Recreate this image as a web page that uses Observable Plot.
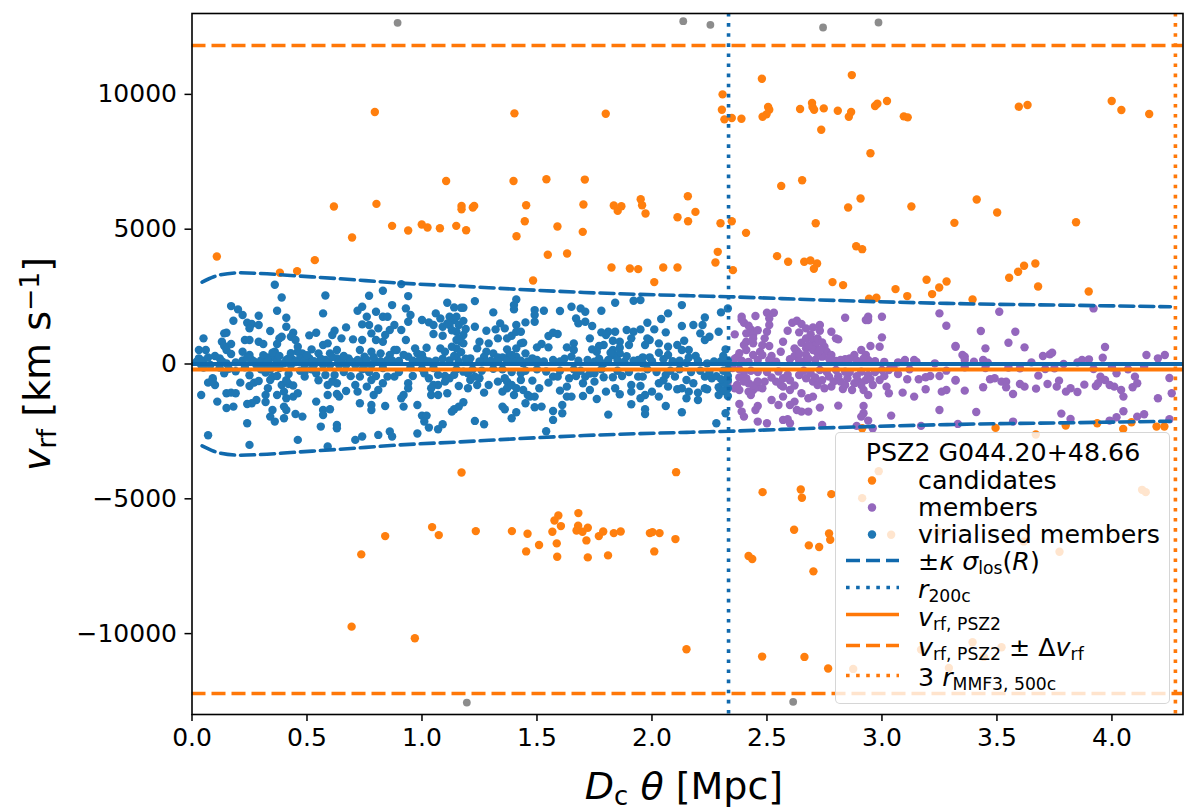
<!DOCTYPE html>
<html><head><meta charset="utf-8">
<script src="https://cdn.jsdelivr.net/npm/d3@7"></script>
<script src="https://cdn.jsdelivr.net/npm/@observablehq/plot@0.6"></script>
<style>
html,body{margin:0;padding:0;background:#fff}
#wrap{position:relative;width:1200px;height:812px;font-family:"DejaVu Sans",sans-serif;color:#000;overflow:hidden}
.lab{position:absolute;white-space:nowrap;line-height:1}
.lab sub{font-size:.68em;vertical-align:baseline;position:relative;top:.22em}
.lab sup{font-size:.7em;vertical-align:baseline;position:relative;top:-.42em}
#legend{position:absolute;left:835px;top:432px;width:333px;height:270px;background:rgba(255,255,255,.8);border:1.5px solid rgba(204,204,204,.8);border-radius:5px}
#legend .lab{font-size:25.3px}
#legend svg{position:absolute;left:0;top:0}
</style></head><body><div id="wrap"></div>
<script>
const virialised = [
[.36,2938],[.39,2469],[.58,2543],[.77,2531],[.17,2148],[.20,2025],[.22,1815],[.18,1605],[.29,1790],[.37,1975],[.57,1877],[.41,1716],[.24,1531],[.26,1481],[.29,1444],[.25,1321],[.41,1383],[.34,1222],[.15,1160],[.14,1136],[.44,1160],[.54,1160],[.51,1062],[.62,1235],[.61,1074],[.67,1358],[.72,1975],[.74,2123],[.76,1753],[.80,1938],[.74,1469],[.77,1444],[.78,1136],[.05,951],[.23,889],[.25,889],[.29,827],[.31,741],[.13,827],[.17,741],[.14,667],[.15,519],[.17,370],[.03,519],[.06,519],[.22,457],[.39,1012],[.38,951],[.37,741],[.43,1012],[.45,889],[.46,642],[.48,395],[.36,457],[.35,247],[.33,247],[.25,333],[.26,148],[.10,296],[.12,210],[.15,25],[.03,210],[.02,86],[.41,148],[.44,148],[.46,457],[.47,210],[.51,210],[.52,543],[.55,395],[.57,704],[.59,765],[.65,951],[.63,519],[.60,395],[.63,210],[.65,86],[.70,914],[.74,889],[.73,519],[.75,272],[.72,148],[.68,210],[.80,889],[.81,1321],[.78,457],[.80,86],[.58,148],
[.04,-37],[.08,-37],[.28,-37],[.32,-37],[.36,-37],[.40,25],[.43,-37],[.49,-37],[.53,-37],[.57,-37],[.60,-37],[.64,-37],[.67,-37],[.71,-37],[.75,-37],[.78,-37],
[.09,-531],[.07,-691],[.10,-778],[.09,-593],[.14,-346],[.25,-420],[.21,-691],[.25,-815],[.27,-691],[.29,-630],[.32,-321],[.35,-469],[.37,-444],[.34,-593],[.33,-901],[.32,-1148],[.32,-1407],[.37,-1148],[.39,-778],[.42,-741],[.40,-1025],[.41,-1272],[.44,-1210],[.46,-1086],[.28,-1333],[.26,-1457],[.24,-1481],[.04,-1148],[.11,-1395],[.15,-1086],[.17,-1062],[.19,-1086],[.15,-1630],[.18,-1580],[.40,-1580],[.41,-1704],[.35,-1704],[.34,-1951],[.36,-2136],[.40,-2012],[.45,-1852],[.48,-1951],[.24,-2198],[.07,-2642],[.25,-3000],[.46,-2815],[.59,-3062],[.71,-2815],[.74,-2691],[.54,-1395],[.57,-1704],[.60,-1679],[.57,-1889],[.56,-2321],[.63,-2259],[.63,-2383],[.81,-2630],[.42,-370],[.49,-469],[.49,-284],[.54,-346],[.58,-407],[.62,-407],[.59,-778],[.63,-716],[.67,-1000],[.59,-1148],[.63,-1111],[.64,-1210],[.72,-1025],[.71,-778],[.73,-1457],[.76,-840],[.73,-469],[.78,-593],[.80,-444],[.79,-1148],[.81,-963],[.78,-1519],[.78,-1704],
[.91,2963],[.83,2716],[.94,2519],[.87,2185],[.93,2062],[.95,1815],[.94,1568],[1.11,2272],[1.14,2099],[1.17,2086],[1.18,2086],[1.23,2333],[1.41,2395],[1.40,2185],[1.40,2025],[1.31,1914],[1.53,1975],[1.49,2000],[1.49,1815],[1.60,1963],[1.49,1568],[1.45,1543],[1.41,1444],[1.00,1630],[1.03,1543],[1.06,1877],[1.08,1691],[1.05,1444],[1.05,1111],[1.12,1753],[1.14,1630],[1.12,1444],[1.09,1383],[1.09,1049],[1.16,1444],[1.15,1198],[1.18,1074],[1.15,889],[1.17,827],[1.18,765],[1.15,580],[1.23,1383],[1.28,1235],[1.32,1284],[1.34,1506],[1.36,1321],[1.33,951],[1.37,951],[1.39,1049],[1.41,1198],[1.43,1198],[1.43,765],[1.44,790],[1.41,580],[1.37,543],[1.38,333],[1.41,272],[1.45,395],[1.48,210],[1.50,617],[1.52,741],[1.55,617],[1.55,1037],[1.57,1160],[1.59,1111],[1.63,617],[1.57,148],[1.25,827],[1.29,765],[1.24,580],[1.28,457],[1.31,395],[1.27,272],[1.33,247],[1.35,247],[1.28,86],[1.08,580],[1.10,457],[1.02,605],[.97,580],[.98,395],[.94,272],[1.00,333],[1.01,148],[.88,519],[.89,519],[.86,333],[.85,148],[.93,889],[.91,1259],[.88,1444],[.86,1259],[.84,1074],[.83,827],[.83,1753],[.85,1753],[.82,395],[1.15,272],[1.16,86],[1.21,210],[1.40,86],[1.44,25],
[.84,-1556],[.92,-1580],[.98,-1519],[.83,-716],[.85,-469],[.88,-469],[.96,-444],[.94,-716],[.94,-901],[.92,-1148],[.91,-1272],[1.01,-346],[1.03,-531],[1.10,-444],[1.12,-531],[1.10,-654],[1.07,-778],[1.05,-778],[1.04,-901],[1.04,-1148],[1.07,-1148],[1.11,-1086],[1.16,-815],[1.20,-901],[1.21,-593],[1.24,-778],[1.23,-469],[1.25,-531],[1.29,-778],[1.27,-1062],[1.18,-1420],[1.16,-1580],[1.14,-1679],[1.13,-1765],[1.00,-1914],[1.02,-1914],[1.01,-2136],[1.03,-2358],[1.07,-2420],[1.09,-2235],[1.23,-2111],[1.27,-2235],[.98,-2580],[.86,-2506],[.87,-2691],[1.33,-654],[1.36,-531],[1.37,-654],[1.37,-901],[1.35,-1025],[1.39,-778],[1.40,-1148],[1.41,-901],[1.43,-593],[1.44,-963],[1.46,-1148],[1.45,-1457],[1.47,-1210],[1.49,-1210],[1.35,-1580],[1.36,-1679],[1.41,-1790],[1.39,-2012],[1.49,-1605],[1.52,-1580],[1.48,-617],[1.51,-901],[1.55,-691],[1.57,-469],[1.59,-469],[1.64,-531],[1.60,-988],[1.63,-840],[1.63,-1210],[1.61,-1519],[1.61,-1827],[1.57,-1741],[1.57,-2074],[1.54,-2494],[1.43,-346],[1.18,-284],[1.20,-346],
[1.65,2123],[1.69,2062],[1.71,1938],[1.78,1975],[1.84,2272],[1.92,2346],[1.95,2370],[2.13,2185],[2.07,1877],[2.04,1667],[2.23,1728],[2.30,1914],[2.33,2062],[2.29,1198],[2.18,1444],[2.22,1444],[2.21,1136],[2.23,889],[2.25,1012],[1.67,1691],[1.68,1506],[1.71,1568],[1.74,1407],[1.98,1531],[2.01,1284],[1.95,1284],[1.92,1198],[1.89,1259],[1.84,1198],[1.81,1198],[1.78,1173],[1.80,1074],[2.13,1407],[2.06,1173],[1.73,951],[1.79,704],[1.77,667],[1.74,543],[1.76,457],[1.83,864],[1.86,827],[1.83,519],[1.91,951],[1.90,704],[1.86,395],[1.83,333],[1.85,148],[1.88,86],[1.98,951],[1.99,889],[1.97,704],[2.03,765],[2.07,642],[2.11,704],[2.14,864],[2.13,519],[2.16,519],[2.19,296],[2.07,333],[2.12,123],[1.99,247],[1.96,247],[1.94,148],[2.32,543],[2.33,123],[1.66,765],[1.66,519],[1.65,272],[1.75,86],[1.79,25],[1.96,25],[2.15,49],[2.24,25],
[1.67,-444],[1.70,-716],[1.71,-469],[1.75,-346],[1.75,-654],[1.73,-963],[1.70,-1185],[1.76,-1296],[1.80,-1025],[1.79,-494],[1.83,-494],[1.84,-901],[1.86,-1123],[1.87,-444],[1.91,-778],[1.91,-1025],[1.95,-815],[1.96,-469],[1.94,-469],[1.97,-1148],[1.95,-1272],[1.91,-1494],[1.97,-1679],[1.97,-1852],[1.81,-1877],[2.06,-1556],[2.13,-1790],[2.00,-1025],[2.03,-716],[2.03,-1210],[2.07,-840],[2.06,-407],[2.10,-469],[2.11,-938],[2.13,-901],[2.15,-593],[2.18,-716],[2.16,-1025],[2.15,-1272],[2.20,-1333],[2.23,-901],[2.24,-938],[2.20,-1062],[2.23,-469],[2.26,-531],[2.29,-864],[2.29,-1148],[2.33,-593],[2.33,-901],[2.33,-1185],[2.32,-1827],[2.28,-2198],[1.65,-1210],[2.33,-444],
[.05,120],[.07,240],[.13,100],[.19,60],[.22,130],[.24,230],[.27,90],[.30,130],[.31,330],[.33,100],[.35,420],[.37,90],[.38,300],[.42,210],[.43,400],[.45,70],[.49,120],[.50,330],[.53,100],[.56,200],[.59,60],[.61,260],[.66,300],[.69,100],[.73,60],[.76,150],[.79,250],[.82,100],[.87,130],[.90,110],[.92,340],[.96,120],[.99,160],[1.03,90],[1.06,120],[1.09,200],[1.12,130],[1.14,300],[1.17,440],[1.19,200],[1.13,640],[1.16,950],[1.19,1300],[1.13,1250],[1.18,1600],[1.15,1750],[1.11,1500],[1.25,90],[1.30,120],[1.33,90],[1.37,130],[1.39,340],[1.43,120],[1.46,90],[1.50,150],[1.53,90],[1.60,90],[1.62,200],[1.68,120],[1.72,150],[1.77,200],[1.81,150],[1.82,420],[1.86,600],[1.89,290],[1.92,120],[2.00,100],[2.03,420],[2.05,180],[2.09,100],[2.16,240],[2.20,120],[2.27,90],[2.30,100],[2.31,300],
[.05,-130],[.12,-130],[.16,-180],[.19,-270],[.23,-120],[.30,-200],[.34,-200],[.38,-150],[.41,-600],[.44,-800],[.47,-250],[.52,-200],[.55,-600],[.61,-650],[.66,-300],[.69,-450],[.74,-200],[.77,-300],[.83,-150],[.90,-300],[.95,-120],[1.00,-180],[1.05,-150],[1.07,-400],[1.15,-200],[1.14,-400],[1.22,-200],[1.26,-250],[1.31,-180],[1.35,-200],[1.39,-300],[1.45,-250],[1.50,-200],[1.54,-280],[1.60,-250],[1.66,-200],[1.69,-250],[1.73,-350],[1.78,-200],[1.85,-250],[1.90,-300],[1.98,-200],[2.02,-300],[2.05,-600],[2.08,-250],[2.12,-200],[2.17,-300],[2.21,-250],[2.25,-300],[2.28,-450],[2.31,-250],[2.33,-200],[2.31,-700],[2.31,-1000],[2.30,-560]
];
const members = [
[2.39,1753],[2.40,1531],[2.45,1778],[2.50,1901],[2.53,1901],[2.51,1691],[2.51,1444],[2.50,1198],[2.49,951],[2.36,1099],[2.43,1284],[2.41,1136],[2.44,1074],[2.41,827],[2.44,765],[2.40,704],[2.51,667],[2.41,519],[2.44,333],[2.47,457],[2.37,247],[2.57,827],[2.56,457],[2.59,1235],[2.61,1531],[2.63,1605],[2.65,1481],[2.64,1173],[2.67,1321],[2.70,1358],[2.73,1444],[2.73,1235],[2.78,1198],[2.80,951],[2.81,914],[2.84,1716],[2.93,1630],[2.94,1753],[2.94,1630],[3.00,1753],[3.00,988],[2.95,667],[2.99,642],[2.91,519],[2.88,333],[2.93,333],[2.86,210],[2.83,86],[2.65,790],[2.67,951],[2.70,889],[2.71,704],[2.67,580],[2.63,481],[2.67,333],[2.70,519],[2.75,642],[2.76,457],[2.78,333],[2.74,272],[2.78,148],[2.66,86],[2.71,148],[2.51,148],[2.54,86],[2.46,148],[2.94,148],[3.25,1877],[3.28,1420],[3.32,642],[3.07,62],[3.10,148],[3.14,148],[3.23,25],[2.91,86],
[2.33,-654],[2.33,-840],[2.36,-901],[2.38,-963],[2.37,-778],[2.41,-531],[2.42,-716],[2.42,-1025],[2.44,-963],[2.46,-864],[2.49,-654],[2.48,-901],[2.43,-1148],[2.54,-654],[2.56,-778],[2.57,-531],[2.57,-840],[2.52,-1333],[2.55,-1519],[2.57,-1210],[2.60,-963],[2.62,-1395],[2.60,-1519],[2.63,-1704],[2.65,-1765],[2.68,-1765],[2.70,-1210],[2.68,-1272],[2.65,-1086],[2.73,-1617],[2.81,-1543],[2.64,-407],[2.67,-531],[2.70,-654],[2.72,-778],[2.75,-901],[2.78,-840],[2.77,-469],[2.82,-654],[2.85,-531],[2.83,-926],[2.87,-963],[2.88,-716],[2.90,-654],[2.93,-593],[2.92,-963],[2.94,-1148],[2.96,-778],[2.99,-593],[3.02,-840],[3.03,-1086],[3.09,-1062],[3.14,-1210],[3.19,-938],[3.26,-1025],[3.28,-963],[3.11,-568],[3.16,-568],[3.19,-494],[3.21,-444],[3.25,-444],[3.28,-247],[3.03,-222],[3.07,-370],[3.32,-593],[2.38,-1481],[2.46,-1556],[2.45,-1704],[2.39,-1765],[2.40,-1951],[2.46,-2136],[2.50,-2198],[2.57,-2074],[2.59,-2049],[2.60,-2198],[2.74,-2259],[2.89,-2296],[2.92,-1556],[2.92,-1827],[2.91,-1951],[2.94,-2099],[3.04,-1914],[3.25,-1704],[3.17,-2296],[2.96,-2383],[2.80,-222],[2.84,-284],[2.91,-284],[2.94,-407],[2.73,-222],[3.00,-222],
[3.51,1938],[3.92,2062],[3.43,1222],[3.58,1198],[3.32,667],[3.45,580],[3.55,790],[3.62,617],[3.97,630],[3.35,333],[3.36,272],[3.36,148],[3.40,86],[3.44,148],[3.46,49],[3.70,296],[3.73,358],[3.74,420],[3.87,148],[3.90,173],[3.96,235],[4.15,333],[4.20,210],[4.23,333],[3.79,0],
[3.32,-617],[3.36,-988],[3.44,-864],[3.47,-568],[3.49,-531],[3.52,-654],[3.54,-654],[3.54,-864],[3.57,-1111],[3.60,-741],[3.62,-840],[3.67,-914],[3.68,-432],[3.72,-741],[3.76,-840],[3.77,-617],[3.80,-1025],[3.82,-901],[3.85,-1037],[3.88,-765],[3.93,-815],[3.94,-716],[3.95,-469],[3.97,-593],[3.99,-778],[4.01,-840],[4.04,-963],[4.05,-1210],[4.09,-864],[4.10,-469],[4.11,-716],[4.20,-1272],[4.25,-519],[4.26,-1086],[4.02,-346],[4.07,-198],[3.92,-185],[3.75,-160],[3.71,-185],[3.60,-160],[3.41,-1778],[3.33,-2222],[3.57,-2136],[3.78,-1840],[3.82,-2037],[4.02,-1975],[3.99,-2099],[4.05,-1753],[4.11,-1951],[4.14,-1864],[4.25,-2049],[4.14,-99],
[2.35,-150],[2.38,-200],[2.40,-300],[2.43,-250],[2.46,-300],[2.38,-500],[2.40,-650],[2.44,-800],[2.46,-650],[2.50,-300],[2.52,-500],[2.55,-280],[2.59,-400],[2.60,-600],[2.62,-800],[2.66,-250],[2.69,-350],[2.71,-500],[2.74,-600],[2.76,-300],[2.79,-650],[2.81,-450],[2.84,-780],[2.86,-300],[2.89,-450],[2.91,-780],[2.95,-560],[2.97,-300],[3.01,-450],[3.05,-120],[2.36,200],[2.39,120],[2.42,80],[2.48,330],[2.52,300],[2.60,180],[2.62,300],[2.64,130],[2.68,200],[2.72,400],[2.77,200],[2.80,110],[2.84,180],[2.89,120],[2.92,200],[2.97,100],[2.44,950],[2.46,1250],[2.42,1420],[2.39,1650],[2.48,700],[2.38,400],[2.69,1100],[2.72,950],[2.74,800],[2.68,700],[2.73,520],[2.82,150],[2.62,580],[2.64,380],[3.01,80],[3.12,-200],[3.15,80],[3.36,-120],[3.45,-150],[3.55,-130],[3.65,60],[3.85,60],[4.0,-120]
];
const candidates = [
[.108,3988],[.382,3383],[.457,3445],[.534,3852],[.617,5840],[.696,4691],[.795,9346],[.802,5938],[.870,5124],[.940,4951],[.999,5173],[1.024,5062],[1.078,5037],[1.105,6790],[1.149,5124],[1.192,4963],[1.172,5864],[1.172,5741],[1.221,5803],[1.227,5864],[1.402,9296],[1.398,6790],[1.453,5889],[1.447,5296],[1.411,4741],[1.483,3099],[1.541,6852],[1.547,4050],[1.589,5099],[1.631,4099],[1.708,6840],[1.702,5914],[1.699,4901],[1.799,9284],[1.824,3580],[1.834,5877],[1.851,5679],[1.867,5852],[1.904,3543],[1.940,3519],[1.951,6111],[1.957,5889],[1.972,5580],[2.01,3037],[2.049,3580],[2.111,3580],[2.111,5444],[2.156,6222],[2.157,5296],[2.189,5642],
[2.307,10000],[2.304,9432],[2.315,9074],[2.347,9124],[2.389,9099],[2.298,5222],[2.347,5296],[2.409,4864],[2.286,4160],[2.276,3765],[2.352,3481],[2.478,10580],[2.505,9531],[2.510,9432],[2.498,9259],[2.481,9173],[2.644,9457],[2.696,9679],[2.698,9531],[2.705,9432],[2.747,9481],[2.736,8691],[2.808,9395],[2.869,10716],[2.866,9346],[2.856,9173],[2.970,9568],[2.980,9654],[3.022,9753],[3.095,9185],[3.112,9148],[2.950,7815],[3.595,9543],[3.633,9605],[3.999,9753],[4.041,9420],[4.162,9272],[2.562,6605],[2.653,6815],[2.907,6136],[2.853,5803],[3.128,5840],[2.712,5222],[3.412,6099],[3.501,5617],[3.315,5235],[3.844,5259],[2.544,4000],[2.592,3790],[2.662,3790],[2.689,3840],[2.718,3728],[2.704,3531],[2.888,4370],[2.914,4259],[2.785,3037],[2.831,2926],[3.059,2778],[3.110,2519],[2.944,2420],[2.976,2457],[3.194,3123],[3.249,2840],[3.281,3062],[3.218,2593],[3.394,2395],[3.553,3198],[3.592,3420],[3.618,3642],[3.667,3728],[3.679,2877],[3.899,2691],
[1.172,-4025],[2.105,-4012],[1.044,-6050],[1.073,-6346],[.840,-6383],[.736,-7062],[1.234,-6198],[1.391,-6198],[1.459,-6296],[1.453,-6951],[1.509,-6716],[1.567,-6222],[1.586,-6654],[1.588,-7148],[1.576,-5802],[1.593,-5617],[1.604,-6012],[1.680,-5531],[1.679,-6000],[1.672,-6173],[1.698,-6222],[1.721,-6074],[1.715,-6543],[1.721,-7173],[1.769,-6383],[1.788,-6210],[1.809,-7099],[1.834,-6272],[1.864,-6210],[1.991,-6272],[2.002,-6235],[2.033,-6272],[2.01,-6951],[2.102,-6494],[.694,-9741],[.969,-10173],[2.15,-10580],
[2.481,-4753],[2.647,-4654],[2.652,-4963],[2.780,-4827],[2.618,-6148],[2.770,-6284],[2.775,-6519],[2.682,-6728],[2.727,-6790],[2.420,-7123],[2.436,-7235],[2.702,-7691],[2.479,-10852],[2.663,-10864],[2.766,-11296],[2.986,-3975],[2.914,-4975],[3.040,-6333],[3.669,-2617],[4.131,-4667],[4.147,-4753],[3.243,-6210],[3.617,-6580],[3.772,-6963],[3.394,-10321],[3.520,-10506],[3.443,-10864],[3.170,-10593],[3.291,-11272],[2.875,-11309],[3.494,-2370],[3.799,-2284],[3.936,-2198],[4.049,-2407],[4.085,-2160],[4.194,-2321],[4.228,-2321],[2.914,-2383]
];
const rejected = [[.894,12654],[2.136,12716],[2.254,12580],[2.744,12481],[2.985,12667],[1.195,-12556],[2.614,-12531]];
const sigmaR = [.044,.095,.124,.211,.298,.472,.646,.906,1.167,1.428,1.704,2.168,2.333,2.704,3.283,3.863,4.254];
const sigmaV = [3037,3235,3309,3383,3358,3259,3160,3000,2889,2765,2654,2531,2494,2383,2247,2173,2123];
const r200c = 2.333, r500x3 = 4.276;
const vPSZ2 = -200, vUpper = 11815, vLower = -12222;
const xTicks = [0,.5,1,1.5,2,2.5,3,3.5,4];
const yTicks = [-10000,-5000,0,5000,10000];
const BLUE="#1f77b4", LBLUE="#1069ad", ORANGE="#ff7f0e", LORANGE="#ff7808", PURPLE="#9467bd", GRAY="#8c8c8c";
const upper = sigmaR.map((r,i)=>[r,sigmaV[i]]), lower = sigmaR.map((r,i)=>[r,-sigmaV[i]]);
const dot = (d,c,r=4.2)=>Plot.dot(d,{x:"0",y:"1",r,fill:c,stroke:null});
const chart = Plot.plot({
  width:1200,height:812,marginLeft:191.5,marginRight:17.5,marginTop:13,marginBottom:98,
  style:{fontFamily:"'DejaVu Sans',sans-serif",background:"#fff",color:"#000"},
  x:{domain:[0,4.309],label:null},
  y:{domain:[-13000,13000],label:null},
  marks:[
    dot(rejected,GRAY,3.9),dot(candidates,ORANGE),dot(members,PURPLE),dot(virialised,BLUE),
    Plot.line(upper,{x:"0",y:"1",stroke:LBLUE,strokeWidth:3.6,strokeDasharray:"14 6",curve:"monotone-x"}),
    Plot.line(lower,{x:"0",y:"1",stroke:LBLUE,strokeWidth:3.6,strokeDasharray:"14 6",curve:"monotone-x"}),
    Plot.ruleX([r200c],{stroke:LBLUE,strokeWidth:3.6,strokeDasharray:"3.6 6.5"}),
    Plot.ruleY([0],{stroke:LBLUE,strokeWidth:3.8}),
    Plot.ruleY([vPSZ2],{stroke:LORANGE,strokeWidth:4}),
    Plot.ruleY([vUpper,vLower],{stroke:LORANGE,strokeWidth:3.6,strokeDasharray:"14 6"}),
    Plot.ruleX([r500x3],{stroke:LORANGE,strokeWidth:3.6,strokeDasharray:"3.6 6.5"}),
    Plot.frame({stroke:"#000",strokeWidth:1.6}),
    Plot.axisX({ticks:xTicks,tickFormat:d=>d.toFixed(1),tickSize:7,tickPadding:7,fontSize:25,label:null,strokeWidth:1.5}),
    Plot.axisY({ticks:yTicks,tickFormat:d=>d<0?"\u2212"+(-d):String(d),tickSize:7,tickPadding:8,fontSize:25,label:null,strokeWidth:1.5})
  ]
});
const wrap=document.getElementById("wrap");
wrap.appendChild(chart);
chart.style.position="absolute";chart.style.left="0";chart.style.top="0";
function lab(html,css,parent=wrap){const d=document.createElement("div");d.className="lab";d.innerHTML=html;d.style.cssText=css;parent.appendChild(d);return d;}
lab('<i>D</i><sub>c</sub> <i>θ</i> [Mpc]','left:684px;top:786px;transform:translate(-50%,-50%);font-size:38px');
lab('<i>v</i><sub>rf</sub> [km s<sup>−1</sup>]','left:37px;top:364px;transform:translate(-50%,-50%) rotate(-90deg);font-size:38px');
const legend=document.createElement("div");legend.id="legend";wrap.appendChild(legend);
const L=835,T=432;
const rows=[['candidates',480],['members',507],['virialised members',534],
 ['±<i>κ</i> <i>σ</i><sub>los</sub>(<i>R</i>)',561],['<i>r</i><sub>200c</sub>',589],['<i>v</i><sub>rf, PSZ2</sub>',617],
 ['<i>v</i><sub>rf, PSZ2</sub> ± Δ<i>v</i><sub>rf</sub>',647],['3 <i>r</i><sub>MMF3, 500c</sub>',677]];
lab('PSZ2 G044.20+48.66',`left:${1002-L}px;top:${452-T}px;transform:translate(-50%,-50%)`,legend);
rows.forEach(([h,y])=>lab(h,`left:${917-L}px;top:${y-T}px;transform:translateY(-50%)`,legend));
const s=d3.select(legend).append("svg").attr("width",333).attr("height",270);
[[481,ORANGE],[508,PURPLE],[535,BLUE]].forEach(([y,c])=>s.append("circle").attr("cx",871-L).attr("cy",y-T-1.5).attr("r",4.2).attr("fill",c));
[[561,LBLUE,"14 6"],[588,LBLUE,"3.6 6.5"],[615,LORANGE,null],[646,LORANGE,"14 6"],[676,LORANGE,"3.6 6.5"]].forEach(([y,c,dd])=>{
  s.append("line").attr("x1",845-L).attr("x2",898-L).attr("y1",y-T-1.5).attr("y2",y-T-1.5).attr("stroke",c).attr("stroke-width",3.6).attr("stroke-dasharray",dd);
});
</script></body></html>
